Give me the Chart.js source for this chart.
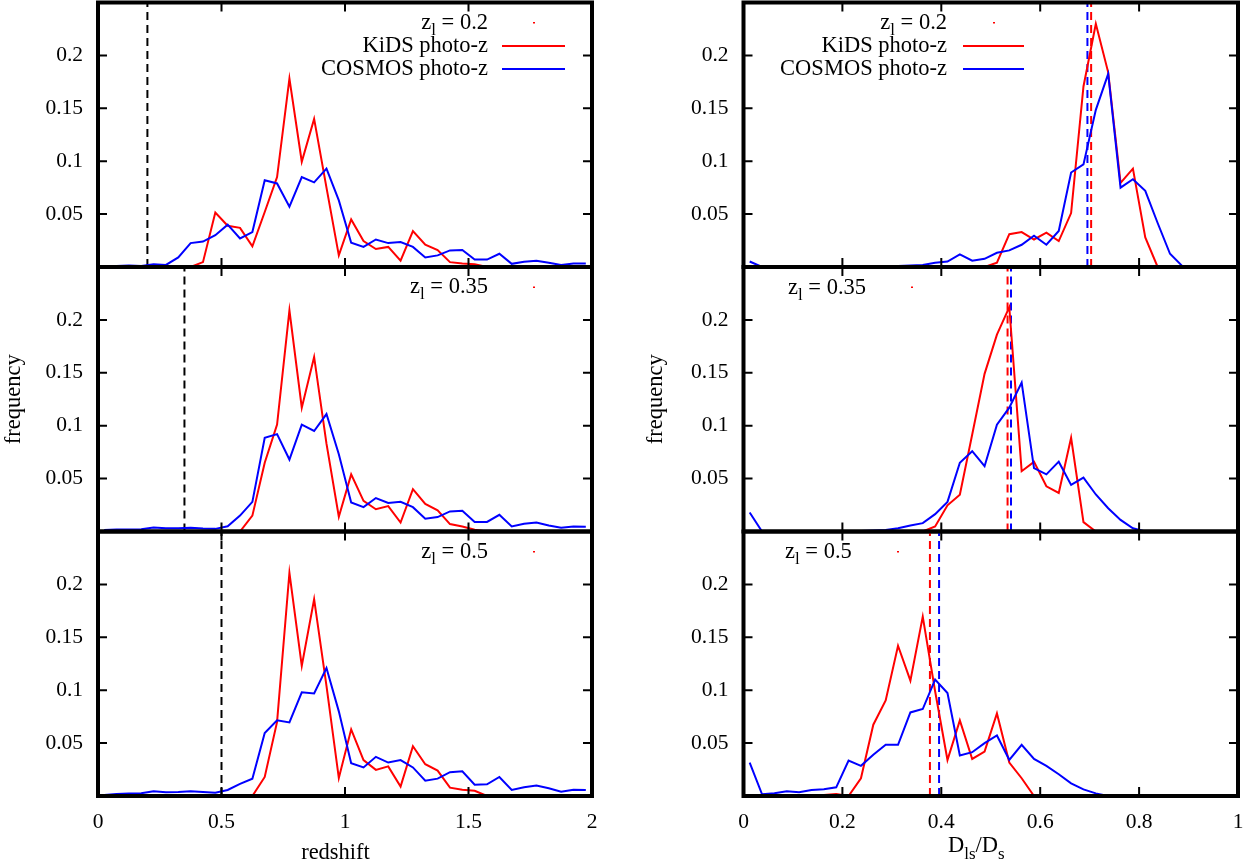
<!DOCTYPE html>
<html>
<head>
<meta charset="utf-8">
<script src="https://cdn.jsdelivr.net/npm/chart.js@4.4.0/dist/chart.umd.min.js"></script>
<style>
  html, body { margin: 0; padding: 0; background: #fff; }
  #wrap { position: relative; width: 1254px; height: 866px; }
  #wrap canvas { position: absolute; left: 0; top: 0; }
</style>
</head>
<body>
<div id="wrap"></div>
<script>
// bin centres: redshift (left column) and Dls/Ds (right column)
const zBins = [0.025, 0.075, 0.125, 0.175, 0.225, 0.275, 0.325, 0.375, 0.425, 0.475,
  0.525, 0.575, 0.625, 0.675, 0.725, 0.775, 0.825, 0.875, 0.925, 0.975,
  1.025, 1.075, 1.125, 1.175, 1.225, 1.275, 1.325, 1.375, 1.425, 1.475,
  1.525, 1.575, 1.625, 1.675, 1.725, 1.775, 1.825, 1.875, 1.925, 1.975];
const dBins = [0.0125, 0.0375, 0.0625, 0.0875, 0.1125, 0.1375, 0.1625, 0.1875, 0.2125, 0.2375,
  0.2625, 0.2875, 0.3125, 0.3375, 0.3625, 0.3875, 0.4125, 0.4375, 0.4625, 0.4875,
  0.5125, 0.5375, 0.5625, 0.5875, 0.6125, 0.6375, 0.6625, 0.6875, 0.7125, 0.7375,
  0.7625, 0.7875, 0.8125, 0.8375, 0.8625, 0.8875, 0.9125, 0.9375, 0.9625, 0.9875];

// lens redshifts and mean Dls/Ds
const lensZ = [0.2, 0.35, 0.5];
const lensLabels = ['0.2', '0.35', '0.5'];
const meanKids = [0.703, 0.534, 0.377];
const meanCosmos = [0.6955, 0.541, 0.3955];

// redshift distributions
const kidsZ1 = [0, 0, 0, 0, 0, 0, 0, 0, 0.0046, 0.0514,
  0.039, 0.037, 0.0195, 0.052, 0.085, 0.178, 0.0995, 0.14, 0.075, 0.011,
  0.045, 0.0245, 0.017, 0.019, 0.006, 0.034, 0.021, 0.016, 0.0046, 0.0033,
  0.0027, 0, 0, 0, 0, 0, 0, 0, 0, 0];
const cosmosZ1 = [0.001, 0.001, 0.0015, 0.001, 0.0025, 0.002, 0.009, 0.0226, 0.024, 0.030,
  0.040, 0.027, 0.033, 0.082, 0.079, 0.057, 0.085, 0.080, 0.093, 0.063,
  0.023, 0.019, 0.026, 0.0226, 0.0236, 0.019, 0.009, 0.011, 0.0157, 0.016,
  0.007, 0.007, 0.0125, 0.003, 0.005, 0.006, 0.004, 0.002, 0.0033, 0.0033];
const kidsZ2 = [0, 0, 0, 0, 0, 0, 0, 0, 0, 0,
  0, 0, 0.015, 0.065, 0.101, 0.209, 0.117, 0.165, 0.083, 0.014,
  0.054, 0.029, 0.021, 0.024, 0.0085, 0.040, 0.026, 0.020, 0.007, 0.0047,
  0.0016, 0, 0, 0, 0, 0, 0, 0, 0, 0];
const cosmosZ2 = [0.0015, 0.002, 0.002, 0.0022, 0.0038, 0.003, 0.003, 0.0035, 0.0028, 0.0025,
  0.005, 0.015, 0.028, 0.0885, 0.092, 0.068, 0.101, 0.095, 0.111, 0.073,
  0.0275, 0.023, 0.0316, 0.027, 0.028, 0.023, 0.012, 0.0136, 0.019, 0.0196,
  0.009, 0.009, 0.0158, 0.0047, 0.0073, 0.0085, 0.0057, 0.0035, 0.0047, 0.0044];
const kidsZ3 = [0, 0, 0, 0, 0, 0, 0, 0, 0, 0,
  0, 0, 0, 0.018, 0.07, 0.211, 0.123, 0.186, 0.104, 0.017,
  0.063, 0.034, 0.0247, 0.028, 0.0089, 0.047, 0.030, 0.024, 0.0079, 0.006,
  0.005, 0, 0, 0, 0, 0, 0, 0, 0, 0];
const cosmosZ3 = [0.001, 0.002, 0.0023, 0.0025, 0.0044, 0.0035, 0.0038, 0.0044, 0.0038, 0.003,
  0.0057, 0.0114, 0.0164, 0.0595, 0.0715, 0.0696, 0.098, 0.097, 0.121, 0.080,
  0.031, 0.027, 0.037, 0.0316, 0.034, 0.027, 0.0145, 0.0164, 0.0225, 0.0234,
  0.0107, 0.011, 0.018, 0.0057, 0.0082, 0.0098, 0.0073, 0.0041, 0.006, 0.0057];

// Dls/Ds distributions
const kidsD1 = [0, 0, 0, 0, 0, 0, 0, 0, 0, 0,
  0, 0, 0, 0, 0, 0, 0, 0, 0, 0,
  0.004, 0.031, 0.033, 0.026, 0.0324, 0.0245, 0.051, 0.1706, 0.2298, 0.184,
  0.0796, 0.093, 0.028, 0, 0, 0, 0, 0, 0, 0];
const cosmosD1 = [0.0052, 0, 0, 0, 0, 0, 0, 0, 0, 0,
  0, 0.0003, 0.001, 0.0015, 0.002, 0.004, 0.0052, 0.012, 0.006, 0.0077,
  0.0134, 0.0157, 0.021, 0.0296, 0.021, 0.034, 0.0893, 0.097, 0.1485, 0.1826,
  0.075, 0.083, 0.072, 0.0416, 0.0125, 0.0008, 0, 0, 0, 0];
const kidsD2 = [0, 0, 0, 0, 0, 0, 0, 0, 0, 0,
  0, 0, 0, 0, 0, 0.0047, 0.0247, 0.0348, 0.0917, 0.149,
  0.186, 0.212, 0.057, 0.0658, 0.0427, 0.0364, 0.0886, 0.0089, 0, 0,
  0, 0, 0, 0, 0, 0, 0, 0, 0, 0];
const cosmosD2 = [0.018, 0, 0, 0, 0, 0, 0, 0, 0, 0.0005,
  0.001, 0.0015, 0.003, 0.0057, 0.0079, 0.0164, 0.028, 0.065, 0.0759, 0.0617,
  0.101, 0.117, 0.1407, 0.060, 0.054, 0.066, 0.044, 0.051, 0.035, 0.022,
  0.011, 0.003, 0, 0, 0, 0, 0, 0, 0, 0];
const kidsD3 = [0, 0, 0, 0, 0, 0, 0.001, 0.002, 0, 0.0168,
  0.0674, 0.0904, 0.142, 0.109, 0.1695, 0.099, 0.034, 0.0715, 0.035, 0.042,
  0.078, 0.0316, 0.0168, 0, 0, 0, 0, 0, 0, 0,
  0, 0, 0, 0, 0, 0, 0, 0, 0, 0];
const cosmosD3 = [0.0316, 0.0016, 0.0025, 0.0044, 0.0035, 0.0057, 0.0063, 0.0082, 0.0335, 0.0285,
  0.039, 0.0484, 0.0484, 0.079, 0.0822, 0.110, 0.0974, 0.0383, 0.0414, 0.050,
  0.0572, 0.0342, 0.0484, 0.0351, 0.0285, 0.0206, 0.012, 0.0063, 0.0025, 0,
  0, 0, 0, 0, 0, 0, 0, 0, 0, 0];

const kidsRows = [[kidsZ1, kidsZ2, kidsZ3], [kidsD1, kidsD2, kidsD3]];
const cosmosRows = [[cosmosZ1, cosmosZ2, cosmosZ3], [cosmosD1, cosmosD2, cosmosD3]];

// page layout
const W = 1254, H = 866;
const COLS = [{left: 98, right: 592, axisW: 97.5}, {left: 743.5, right: 1238, axisW: 101}];
const ROWS = [{top: 2.5, bottom: 267}, {top: 267, bottom: 531.5}, {top: 531.5, bottom: 796}];
const TICK = 9;
const SERIF = '"Liberation Serif", "DejaVu Serif", serif';
const MAIN_FONT = '22.5px ' + SERIF;
const SUB_FONT = '17px ' + SERIF;
const RED = '#ff0000', BLUE = '#0000ff';

Chart.defaults.font.family = SERIF;
Chart.defaults.color = '#000';

// text with subscripts, y is the baseline
function drawRich(ctx, parts, x, y, align) {
  const widths = parts.map(p => {
    ctx.font = p.sub ? SUB_FONT : MAIN_FONT;
    return ctx.measureText(p.t).width;
  });
  const total = widths.reduce((s, w) => s + w, 0);
  let cx = align === 'right' ? x - total : align === 'center' ? x - total / 2 : x;
  ctx.textAlign = 'left';
  ctx.textBaseline = 'alphabetic';
  parts.forEach((p, i) => {
    ctx.font = p.sub ? SUB_FONT : MAIN_FONT;
    ctx.fillText(p.t, cx, y + (p.sub ? p.sub : 0));
    cx += widths[i];
  });
}

function decoPlugin(deco) {
  return {
    id: 'panelDeco',
    afterDatasetsDraw(chart) {
      const {ctx, chartArea: a, scales: {x, y}} = chart;
      ctx.save();
      // inward ticks on all four sides
      ctx.strokeStyle = '#000';
      ctx.lineWidth = 2;
      ctx.beginPath();
      deco.xTicks.forEach(v => {
        const px = x.getPixelForValue(v);
        ctx.moveTo(px, a.top); ctx.lineTo(px, a.top + TICK);
        ctx.moveTo(px, a.bottom); ctx.lineTo(px, a.bottom - TICK);
      });
      [0.05, 0.1, 0.15, 0.2].forEach(v => {
        const py = y.getPixelForValue(v);
        ctx.moveTo(a.left, py); ctx.lineTo(a.left + TICK, py);
        ctx.moveTo(a.right, py); ctx.lineTo(a.right - TICK, py);
      });
      ctx.stroke();
      // frame
      ctx.lineWidth = 4;
      ctx.strokeRect(a.left, a.top, a.right - a.left, a.bottom - a.top);

      // lens label with its key dot
      ctx.fillStyle = '#000';
      drawRich(ctx, [{t: 'z'}, {t: 'l', sub: 6}, {t: ' = ' + deco.lens}], deco.lensX, deco.lensY, deco.lensAlign);
      ctx.fillStyle = RED;
      ctx.fillRect(deco.dot[0] - 1, deco.dot[1] - 1, 2, 1.5);

      // key entries
      if (deco.key) {
        const k = deco.key;
        ctx.font = MAIN_FONT;
        ctx.textAlign = 'right';
        ctx.textBaseline = 'middle';
        ctx.lineWidth = 2;
        [['KiDS photo-z', RED, k.y[0]], ['COSMOS photo-z', BLUE, k.y[1]]].forEach(([txt, col, yy]) => {
          ctx.fillStyle = '#000';
          ctx.fillText(txt, k.textX, yy);
          ctx.strokeStyle = col;
          ctx.beginPath();
          ctx.moveTo(k.x1, yy); ctx.lineTo(k.x2, yy);
          ctx.stroke();
        });
      }

      // x axis title (bottom row)
      if (deco.xTitle) {
        ctx.fillStyle = '#000';
        drawRich(ctx, deco.xTitle.parts, deco.xTitle.x, deco.xTitle.y, deco.xTitle.align);
      }
      ctx.restore();
    }
  };
}

function vline(v, color) {
  return {
    data: [{x: v, y: 0}, {x: v, y: 0.25}],
    borderColor: color, borderWidth: 2, borderDash: [8, 5],
    pointRadius: 0, fill: false
  };
}

function makePanel(c, r) {
  const col = COLS[c], row = ROWS[r];
  const bins = c === 0 ? zBins : dBins;
  const xy = ys => bins.map((b, i) => ({x: b, y: ys[i]}));

  const datasets = [
    {label: 'COSMOS photo-z', data: xy(cosmosRows[c][r]), borderColor: BLUE, borderWidth: 2, pointRadius: 0, tension: 0, fill: false},
    {label: 'KiDS photo-z', data: xy(kidsRows[c][r]), borderColor: RED, borderWidth: 2, pointRadius: 0, tension: 0, fill: false}
  ];
  if (c === 0) {
    datasets.push(vline(lensZ[r], '#000'));
  } else {
    datasets.push(vline(meanCosmos[r], BLUE));
    datasets.push(vline(meanKids[r], RED));
  }

  // decorations
  const lensPos = c === 0
    ? {lensX: 488, lensY: row.top + 26, lensAlign: 'right', dot: [534, row.top + 20.5]}
    : [{lensX: 947, lensY: 28.5, lensAlign: 'right', dot: [994, 23]},
       {lensX: 788, lensY: 294, lensAlign: 'left', dot: [912, 287.5]},
       {lensX: 785, lensY: 557.7, lensAlign: 'left', dot: [898, 552]}][r];
  const deco = Object.assign({
    lens: lensLabels[r],
    xTicks: c === 0 ? [0.5, 1, 1.5] : [0.2, 0.4, 0.6, 0.8]
  }, lensPos);
  if (r === 0) {
    deco.key = c === 0 ? {textX: 488, x1: 502, x2: 565, y: [46, 69]} : {textX: 947, x1: 963, x2: 1024, y: [46, 69]};
  }
  if (r === 2) {
    deco.xTitle = c === 0
      ? {parts: [{t: 'redshift'}], x: 335.5, y: 859, align: 'center'}
      : {parts: [{t: 'D'}, {t: 'ls', sub: 7}, {t: '/D'}, {t: 's', sub: 7}], x: 948, y: 852, align: 'left'};
  }

  const canvas = document.createElement('canvas');
  canvas.width = W; canvas.height = H;
  document.getElementById('wrap').appendChild(canvas);

  const xAxisH = r === 2 ? H - ROWS[2].bottom : 0;
  return new Chart(canvas.getContext('2d'), {
    type: 'line',
    data: {datasets},
    options: {
      responsive: false,
      animation: false,
      devicePixelRatio: 1,
      events: [],
      layout: {
        padding: {
          left: col.left - col.axisW,
          right: W - col.right,
          top: row.top,
          bottom: H - row.bottom - xAxisH
        }
      },
      plugins: {legend: {display: false}, tooltip: {enabled: false}},
      scales: {
        x: {
          type: 'linear',
          min: 0, max: c === 0 ? 2 : 1,
          display: r === 2,
          grid: {display: false, drawTicks: false},
          border: {display: false},
          ticks: {
            stepSize: c === 0 ? 0.5 : 0.2, padding: 13, autoSkip: false, maxRotation: 0,
            font: {size: 21.5},
            callback: v => String(+v.toFixed(2))
          },
          afterFit: s => { s.height = xAxisH; s.paddingLeft = 0; s.paddingRight = 0; }
        },
        y: {
          type: 'linear',
          min: 0, max: 0.25,
          grid: {display: false, drawTicks: false},
          border: {display: false},
          ticks: {
            stepSize: 0.05, padding: 15, font: {size: 21.5},
            callback: v => (v > 0.01 && v < 0.24) ? String(+v.toFixed(2)) : ''
          },
          title: {display: r === 1, text: 'frequency', font: {size: 22.5}, padding: 0},
          afterFit: s => { s.width = col.axisW; s.paddingTop = 0; s.paddingBottom = 0; }
        }
      }
    },
    plugins: [decoPlugin(deco)]
  });
}

for (let c = 0; c < 2; c++) {
  for (let r = 0; r < 3; r++) makePanel(c, r);
}
</script>
</body>
</html>
